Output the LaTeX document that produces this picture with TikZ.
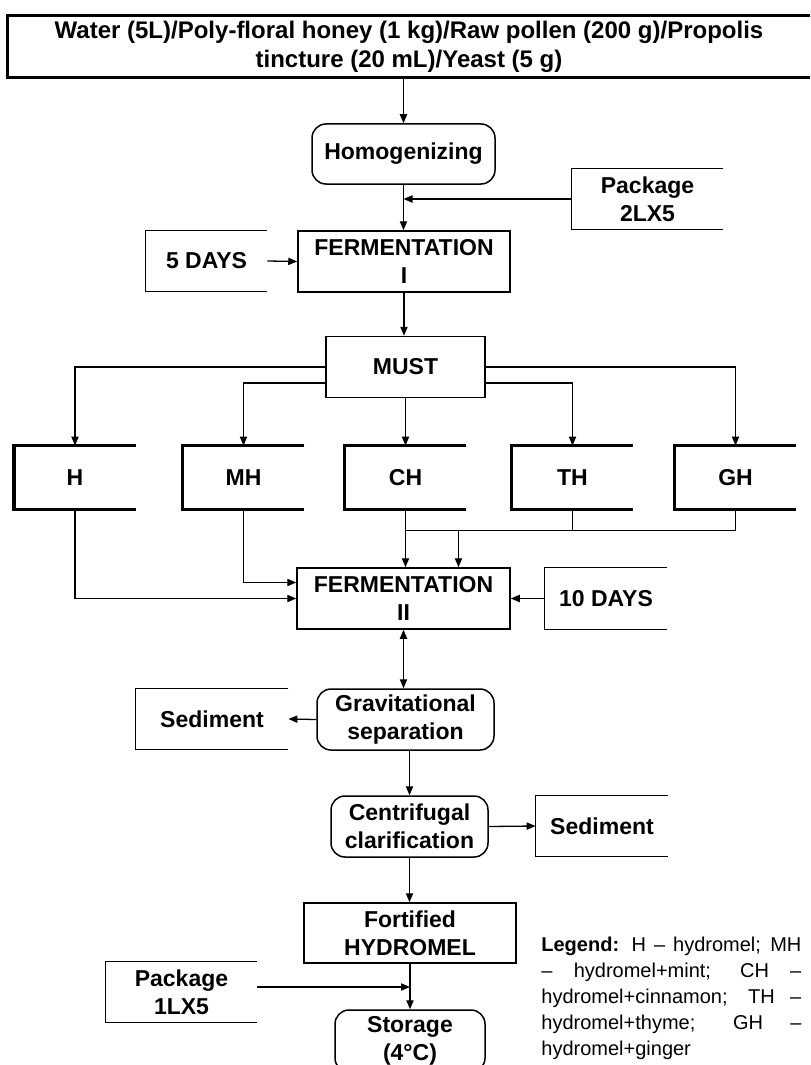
\documentclass[tikz,border=0pt]{standalone}
\usepackage{fontspec}
\setmainfont{Liberation Sans}
\usetikzlibrary{arrows.meta, positioning, calc}

\tikzset{
	txt/.style={font=\bfseries\fontsize{11.5}{14}\selectfont, align=center, inner sep=0pt},
	proc/.style={txt, draw, line width=0.75pt},
	round/.style={proc, rounded corners=7pt},
	open/.style={txt},
	frame/.style={line width=0.75pt},
	heavy/.style={line width=1.7pt},
	line/.style={draw, line width=0.65pt},
	arr/.style={line, -{Triangle[length=4.5pt,width=3.6pt]}},
	twoarr/.style={line, {Triangle[length=4.5pt,width=3.6pt]}-{Triangle[length=4.5pt,width=3.6pt]}}
}

\begin{document}
\begin{tikzpicture}[x=0.5pt, y=-0.5pt]
	\useasboundingbox (0,0) rectangle (810,1065);

	% Ingredients
	\node[open, font=\bfseries\fontsize{12}{14.5}\selectfont, minimum width=401pt, minimum height=30.5pt] (src) at (409,46.5)
		{Water (5L)/Poly-floral honey (1 kg)/Raw pollen (200 g)/Propolis\\tincture (20 mL)/Yeast (5 g)};

	% Main line
	\node[round, minimum width=91.5pt, minimum height=30pt] (homog) at (403.5,154) {Homogenizing};
	\node[open, minimum width=75.5pt, minimum height=30pt] (pk2) at (647.5,199) {Package\\2LX5};
	\node[proc, minimum width=106pt, minimum height=30.5pt] (ferm1) at (404,261.5) {FERMENTATION\\I};
	\node[open, minimum width=60.5pt, minimum height=30pt] (five) at (206.5,261) {5 DAYS};
	\node[proc, minimum width=79.5pt, minimum height=30.5pt] (must) at (405.5,367) {MUST};

	% Variants
	\foreach \n/\t/\x in {h/H/75, mh/MH/243.5, ch/CH/405.5, th/TH/572.5, gh/GH/735.5}
		\node[open, minimum width=60.5pt, minimum height=31.5pt] (\n) at (\x,477.5) {\t};

	\node[proc, minimum width=106.5pt, minimum height=30.5pt] (ferm2) at (403.5,598.5) {FERMENTATION\\II};
	\node[open, minimum width=61pt, minimum height=30.5pt] (ten) at (606,598.5) {10 DAYS};
	\node[round, minimum width=88.5pt, minimum height=30.5pt] (grav) at (405.5,719.5) {Gravitational\\separation};
	\node[open, minimum width=76pt, minimum height=30pt] (sedl) at (212,719) {Sediment};
	\node[round, minimum width=78.5pt, minimum height=30.5pt] (centr) at (409.5,826.5) {Centrifugal\\clarification};
	\node[open, minimum width=66pt, minimum height=30pt] (sedr) at (602,826) {Sediment};
	\node[proc, minimum width=106pt, minimum height=30pt] (fort) at (410,933) {Fortified\\HYDROMEL};
	\node[round, minimum width=75pt, minimum height=31pt] (stor) at (410,1041) {Storage\\(4°C)};
	\node[open, minimum width=75.5pt, minimum height=30pt] (pk1) at (181.5,992) {Package\\1LX5};

	% Legend
	\node[anchor=north west, inner sep=0pt, align=left, font=\fontsize{10}{13}\selectfont] (leg) at (541,937)
		{\makebox[130pt][s]{\textbf{Legend:} H – hydromel; MH}\\
		 \makebox[130pt][s]{– hydromel+mint; CH –}\\
		 \makebox[130pt][s]{hydromel+cinnamon; TH –}\\
		 \makebox[130pt][s]{hydromel+thyme; GH –}\\
		 hydromel+ginger};

	% Open frames
	\foreach \n in {pk2, five, ten, sedl, sedr, pk1}
		\draw[frame] (\n.north east) -- (\n.north west) -- (\n.south west) -- (\n.south east);
	\foreach \n in {src, h, mh, ch, th, gh}
		\draw[heavy] (\n.north east) -- (\n.north west) -- (\n.south west) -- (\n.south east);

	% Connectors
	\draw[arr] (homog.north |- src.south) -- (homog.north);
	\draw[arr] (homog.south) -- (homog.south |- ferm1.north);
	\draw[arr] (pk2.west) -- (pk2.west -| homog.south);
	\draw[arr] (five.east) -- (ferm1.west);
	\draw[arr] (ferm1.south) -- (ferm1.south |- must.north);

	\draw[arr] (must.west) -| (h.north);
	\draw[arr] ([yshift=-8pt]must.west) -| (mh.north);
	\draw[arr] (must.south) -- (ch.north);
	\draw[arr] ([yshift=-8pt]must.east) -| (th.north);
	\draw[arr] (must.east) -| (gh.north);

	\coordinate (j1) at ([yshift=-10.5pt]ch.south);
	\coordinate (j2) at ([xshift=26.5pt]j1);
	\draw[line] (ch.south) -- (j1) -- (j1 -| gh.south) -- (gh.south);
	\draw[line] (th.south) -- (th.south |- j1);
	\draw[arr] (j1) -- (j1 |- ferm2.north);
	\draw[arr] (j2) -- (j2 |- ferm2.north);
	\draw[arr] (h.south) |- (ferm2.west);
	\draw[arr] (mh.south) |- ([yshift=8pt]ferm2.west);
	\draw[arr] (ten.west) -- (ferm2.east);

	\draw[twoarr] (ferm2.south) -- (ferm2.south |- grav.north);
	\draw[arr] (grav.west) -- (sedl.east);
	\draw[arr] (grav.south -| centr.north) -- (centr.north);
	\draw[arr] (centr.east) -- (sedr.west);
	\draw[arr] (centr.south) -- (centr.south |- fort.north);
	\draw[arr] (fort.south) -- (stor.north);
	\draw[arr] ([yshift=2.5pt]pk1.east) -- ([yshift=2.5pt]pk1.east -| fort.south);
\end{tikzpicture}
\end{document}
